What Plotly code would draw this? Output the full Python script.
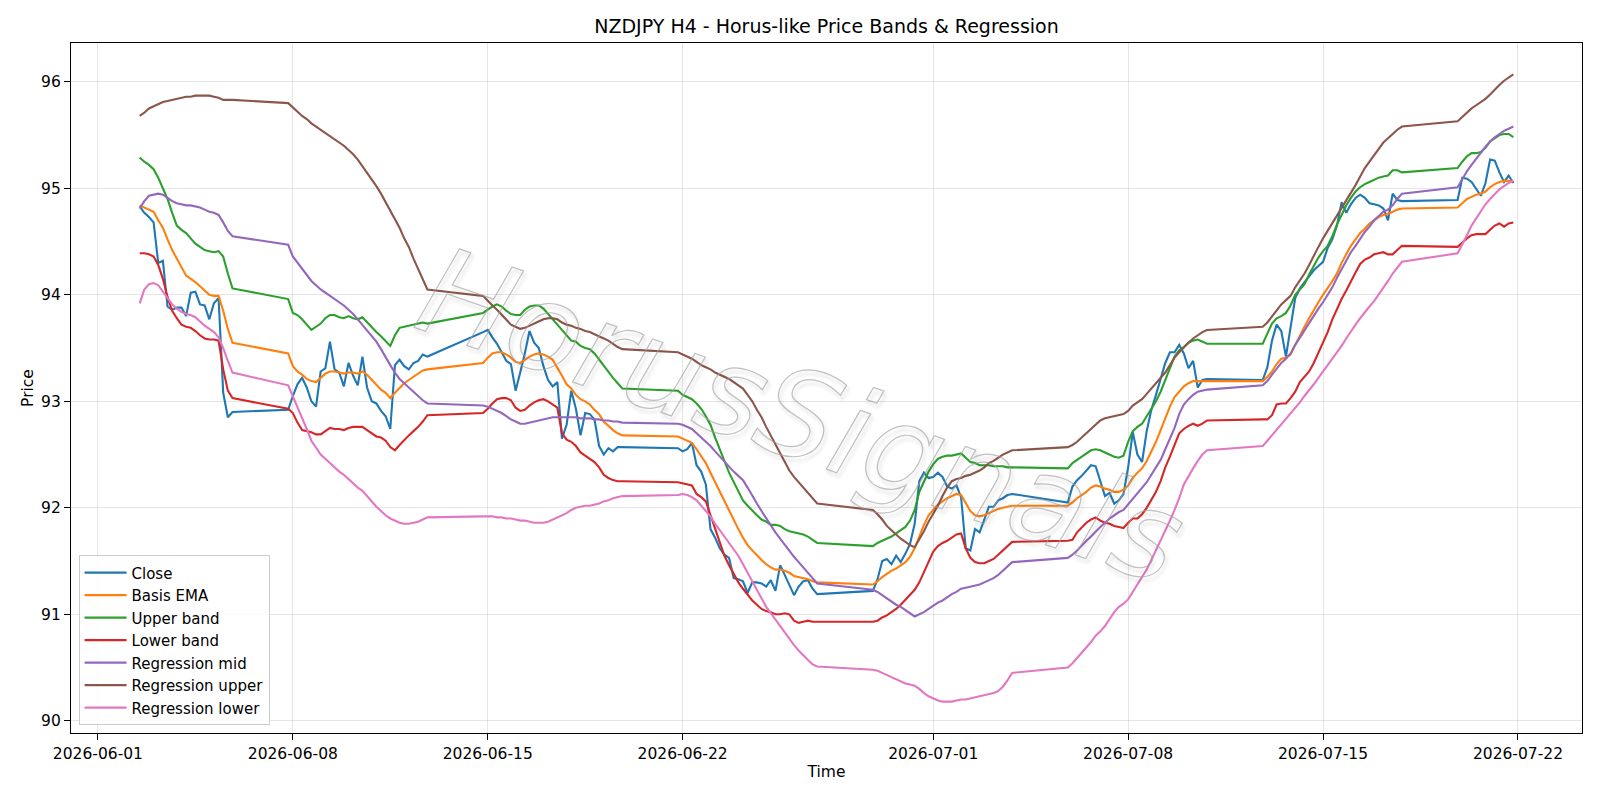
import pandas as pd
import plotly.graph_objects as go

# ---- time axis: H4 bars, Mon-Fri plus the Sunday 20:00 opening bar ----
bars = pd.date_range("2026-06-02 12:00", "2026-07-21 20:00", freq="4h")
times = [t for t in bars if t.weekday() < 5 or (t.weekday() == 6 and t.hour == 20)]

close = [
    94.83, 94.77, 94.73, 94.68, 94.30, 94.32, 93.89, 93.86, 93.88, 93.88, 93.80, 94.02, 94.03, 93.91, 93.90, 93.77, 93.92, 93.97, 93.08, 92.85, 92.90,
    92.92, 93.05, 93.16, 93.22, 93.13, 93.00, 92.95, 93.28, 93.31, 93.56, 93.30, 93.27, 93.14, 93.36, 93.24, 93.15, 93.42, 93.13, 93.00, 92.98, 92.91, 92.86, 92.74, 93.34, 93.39, 93.33, 93.30, 93.36, 93.38, 93.44, 93.42,
    93.65, 93.67, 93.60, 93.54, 93.46, 93.38, 93.35, 93.10, 93.27, 93.45, 93.66, 93.55, 93.50, 93.33, 93.20, 93.14, 93.18, 92.65, 92.78, 93.10, 92.93, 92.68, 92.89, 92.88, 92.83, 92.58, 92.50, 92.56, 92.53, 92.57, 92.57,
    92.56, 92.53, 92.55, 92.61, 92.40, 92.34, 92.22, 91.80, 91.72, 91.62, 91.56, 91.53, 91.34, 91.33, 91.31, 91.20, 91.30, 91.30, 91.29, 91.26, 91.32, 91.22, 91.46, 91.37, 91.28, 91.18, 91.26, 91.31, 91.32, 91.24, 91.19,
    91.22, 91.33, 91.50, 91.52, 91.47, 91.55, 91.49, 91.57, 91.66, 91.85, 92.25, 92.33, 92.28, 92.29, 92.33, 92.29, 92.20, 92.18, 92.21, 92.10, 91.62, 91.60, 91.80, 91.77, 91.90, 92.01, 92.01, 92.07, 92.09, 92.12, 92.13,
    92.05, 92.20, 92.26, 92.30, 92.35, 92.40, 92.39, 92.25, 92.11, 92.14, 92.04, 92.07, 92.13, 92.38, 92.71, 92.50, 92.43, 92.72, 92.92, 93.06, 93.20, 93.36, 93.46, 93.46, 93.53, 93.45, 93.31, 93.38, 93.13, 93.20, 93.21,
    93.20, 93.32, 93.57, 93.72, 93.66, 93.42, 93.68, 93.97, 94.06, 94.12, 94.17, 94.23, 94.27, 94.31, 94.44, 94.52, 94.65, 94.87, 94.77, 94.85, 94.91, 94.94, 94.91, 94.86, 94.85, 94.84, 94.81, 94.70, 94.95, 94.89, 94.88,
    94.89, 95.10, 95.09, 95.06, 95.00, 94.93, 95.05, 95.27, 95.26, 95.15, 95.06, 95.12, 95.05,
]

basis_ema = [
    94.84, 94.82, 94.80, 94.78, 94.70, 94.63, 94.52, 94.42, 94.34, 94.26, 94.18, 94.15, 94.12, 94.08, 94.04, 94.00, 93.99, 93.99, 93.85, 93.68, 93.55,
    93.45, 93.33, 93.28, 93.25, 93.21, 93.19, 93.18, 93.22, 93.26, 93.28, 93.28, 93.27, 93.26, 93.27, 93.27, 93.26, 93.28, 93.25, 93.20, 93.16, 93.11, 93.08, 93.03, 93.08, 93.13, 93.17, 93.20, 93.23, 93.26, 93.29, 93.30,
    93.36, 93.41, 93.45, 93.46, 93.46, 93.44, 93.41, 93.37, 93.36, 93.39, 93.42, 93.44, 93.45, 93.44, 93.42, 93.39, 93.32, 93.24, 93.16, 93.12, 93.06, 93.02, 93.00, 92.97, 92.92, 92.88, 92.81, 92.77, 92.73, 92.70, 92.68,
    92.67, 92.65, 92.63, 92.61, 92.55, 92.49, 92.42, 92.33, 92.24, 92.15, 92.06, 91.98, 91.89, 91.80, 91.72, 91.65, 91.60, 91.55, 91.51, 91.47, 91.44, 91.42, 91.42, 91.41, 91.39, 91.36, 91.35, 91.34, 91.33, 91.31, 91.30,
    91.28, 91.31, 91.35, 91.38, 91.41, 91.43, 91.46, 91.49, 91.54, 91.62, 91.73, 91.84, 91.93, 91.98, 92.03, 92.06, 92.09, 92.11, 92.13, 92.12, 92.04, 91.97, 91.93, 91.92, 91.93, 91.95, 91.97, 91.99, 92.00, 92.01, 92.02,
    92.02, 92.05, 92.09, 92.12, 92.15, 92.19, 92.21, 92.20, 92.18, 92.17, 92.15, 92.15, 92.17, 92.21, 92.28, 92.33, 92.37, 92.44, 92.53, 92.62, 92.73, 92.85, 92.95, 93.04, 93.09, 93.14, 93.17, 93.19, 93.19, 93.19, 93.19,
    93.19, 93.23, 93.28, 93.35, 93.40, 93.41, 93.44, 93.53, 93.62, 93.70, 93.78, 93.86, 93.93, 94.00, 94.06, 94.13, 94.20, 94.30, 94.38, 94.46, 94.52, 94.58, 94.62, 94.67, 94.70, 94.73, 94.75, 94.76, 94.78, 94.80, 94.81,
    94.82, 94.86, 94.90, 94.92, 94.94, 94.95, 94.97, 95.01, 95.04, 95.06, 95.07, 95.07, 95.07,
]

upper_band = [
    95.29, 95.25, 95.22, 95.18, 95.10, 95.00, 94.90, 94.77, 94.65, 94.61, 94.58, 94.53, 94.48, 94.45, 94.42, 94.41, 94.40, 94.41, 94.36, 94.20, 94.06,
    93.96, 93.83, 93.81, 93.77, 93.72, 93.67, 93.70, 93.73, 93.78, 93.81, 93.81, 93.79, 93.78, 93.80, 93.78, 93.77, 93.79, 93.74, 93.69, 93.65, 93.61, 93.56, 93.52, 93.62, 93.69, 93.70, 93.71, 93.72, 93.73, 93.74, 93.73,
    93.83, 93.86, 93.89, 93.91, 93.89, 93.85, 93.82, 93.81, 93.81, 93.86, 93.89, 93.90, 93.90, 93.87, 93.82, 93.77, 93.72, 93.66, 93.62, 93.57, 93.56, 93.52, 93.50, 93.49, 93.45, 93.39, 93.33, 93.28, 93.22, 93.17, 93.12,
    93.10, 93.06, 93.04, 93.02, 92.98, 92.93, 92.86, 92.78, 92.66, 92.54, 92.44, 92.33, 92.24, 92.16, 92.07, 92.02, 91.97, 91.93, 91.89, 91.87, 91.84, 91.84, 91.83, 91.80, 91.78, 91.77, 91.76, 91.75, 91.73, 91.70, 91.67,
    91.64, 91.67, 91.69, 91.71, 91.73, 91.76, 91.79, 91.82, 91.88, 91.98, 92.15, 92.25, 92.34, 92.41, 92.46, 92.48, 92.49, 92.49, 92.50, 92.51, 92.47, 92.43, 92.42, 92.40, 92.40, 92.40, 92.39, 92.39, 92.39, 92.38, 92.38,
    92.37, 92.42, 92.45, 92.48, 92.51, 92.54, 92.55, 92.54, 92.52, 92.50, 92.48, 92.47, 92.49, 92.62, 92.72, 92.76, 92.79, 92.86, 92.93, 93.00, 93.09, 93.20, 93.31, 93.42, 93.48, 93.51, 93.55, 93.57, 93.58, 93.56, 93.54,
    93.54, 93.64, 93.73, 93.78, 93.80, 93.83, 93.90, 94.00, 94.05, 94.10, 94.19, 94.27, 94.35, 94.41, 94.46, 94.55, 94.66, 94.75, 94.84, 94.91, 94.97, 95.01, 95.04, 95.06, 95.08, 95.10, 95.11, 95.12, 95.17, 95.17, 95.15,
    95.19, 95.25, 95.30, 95.33, 95.33, 95.34, 95.38, 95.44, 95.47, 95.50, 95.51, 95.51, 95.48,
]

lower_band = [
    94.39, 94.39, 94.38, 94.36, 94.28, 94.15, 93.98, 93.85, 93.78, 93.72, 93.70, 93.69, 93.66, 93.62, 93.59, 93.58, 93.58, 93.57, 93.30, 93.10, 93.03,
    92.93, 92.89, 92.80, 92.73, 92.72, 92.71, 92.69, 92.69, 92.72, 92.75, 92.74, 92.74, 92.73, 92.75, 92.76, 92.76, 92.76, 92.73, 92.70, 92.67, 92.66, 92.63, 92.57, 92.54, 92.59, 92.64, 92.68, 92.72, 92.76, 92.81, 92.87,
    92.89, 92.93, 92.98, 93.02, 93.03, 93.03, 93.01, 92.94, 92.91, 92.92, 92.96, 92.99, 93.01, 93.02, 93.00, 92.97, 92.94, 92.70, 92.64, 92.62, 92.58, 92.52, 92.49, 92.46, 92.43, 92.38, 92.31, 92.28, 92.26, 92.25, 92.25,
    92.24, 92.23, 92.22, 92.21, 92.13, 92.10, 92.06, 91.93, 91.79, 91.66, 91.55, 91.46, 91.38, 91.30, 91.24, 91.18, 91.13, 91.09, 91.05, 91.03, 91.02, 91.00, 91.00, 91.01, 91.00, 90.94, 90.92, 90.93, 90.94, 90.93, 90.93,
    90.93, 90.94, 90.97, 90.99, 91.02, 91.05, 91.09, 91.14, 91.19, 91.23, 91.30, 91.40, 91.50, 91.59, 91.64, 91.67, 91.69, 91.72, 91.75, 91.76, 91.62, 91.53, 91.49, 91.48, 91.48, 91.50, 91.52, 91.56, 91.60, 91.64, 91.68,
    91.69, 91.70, 91.77, 91.82, 91.86, 91.89, 91.91, 91.88, 91.86, 91.85, 91.83, 91.82, 91.81, 91.86, 91.90, 91.90, 91.94, 92.00, 92.08, 92.15, 92.25, 92.38, 92.48, 92.60, 92.70, 92.74, 92.77, 92.79, 92.77, 92.79, 92.82,
    92.83, 92.83, 92.87, 92.97, 92.98, 92.98, 93.03, 93.09, 93.18, 93.23, 93.28, 93.36, 93.46, 93.56, 93.65, 93.77, 93.87, 93.96, 94.04, 94.13, 94.21, 94.29, 94.33, 94.35, 94.38, 94.39, 94.40, 94.38, 94.38, 94.42, 94.46,
    94.45, 94.49, 94.53, 94.56, 94.57, 94.57, 94.57, 94.61, 94.65, 94.67, 94.64, 94.67, 94.68,
]

regression_mid = [
    94.81, 94.88, 94.93, 94.94, 94.95, 94.94, 94.91, 94.88, 94.86, 94.85, 94.84, 94.84, 94.83, 94.82, 94.80, 94.78, 94.77, 94.75, 94.68, 94.60, 94.55,
    94.47, 94.36, 94.30, 94.24, 94.18, 94.13, 94.09, 94.05, 94.02, 93.99, 93.96, 93.93, 93.90, 93.86, 93.82, 93.77, 93.72, 93.67, 93.62, 93.56, 93.49, 93.41, 93.34, 93.27, 93.21, 93.17, 93.13, 93.09, 93.05, 93.01, 92.98,
    92.96, 92.95, 92.93, 92.91, 92.89, 92.86, 92.83, 92.81, 92.79, 92.79, 92.80, 92.81, 92.82, 92.83, 92.84, 92.85, 92.85, 92.85, 92.85, 92.85, 92.85, 92.84, 92.84, 92.84, 92.83, 92.83, 92.82, 92.82, 92.81, 92.81, 92.80,
    92.79, 92.78, 92.76, 92.74, 92.70, 92.66, 92.62, 92.58, 92.53, 92.48, 92.43, 92.39, 92.34, 92.30, 92.26, 92.19, 92.11, 92.04, 91.97, 91.90, 91.84, 91.77, 91.71, 91.65, 91.59, 91.54, 91.49, 91.44, 91.39, 91.34, 91.29,
    91.23, 91.21, 91.18, 91.15, 91.12, 91.09, 91.07, 91.04, 91.01, 90.98, 91.00, 91.02, 91.05, 91.08, 91.11, 91.13, 91.16, 91.19, 91.21, 91.24, 91.25, 91.26, 91.27, 91.28, 91.30, 91.32, 91.34, 91.37, 91.41, 91.45, 91.49,
    91.53, 91.56, 91.60, 91.65, 91.69, 91.73, 91.78, 91.82, 91.86, 91.90, 91.93, 91.96, 91.98, 92.03, 92.08, 92.14, 92.19, 92.24, 92.31, 92.38, 92.45, 92.55, 92.65, 92.75, 92.88, 92.97, 93.02, 93.06, 93.09, 93.10, 93.11,
    93.15, 93.19, 93.25, 93.31, 93.36, 93.40, 93.45, 93.53, 93.60, 93.67, 93.74, 93.81, 93.87, 93.93, 94.00, 94.07, 94.16, 94.24, 94.32, 94.40, 94.46, 94.53, 94.59, 94.64, 94.70, 94.74, 94.78, 94.80, 94.84, 94.90, 94.95,
    95.01, 95.09, 95.16, 95.22, 95.28, 95.34, 95.39, 95.44, 95.48, 95.51, 95.54, 95.56, 95.58,
]

regression_upper = [
    95.68, 95.71, 95.75, 95.77, 95.79, 95.81, 95.82, 95.83, 95.84, 95.85, 95.86, 95.86, 95.87, 95.87, 95.87, 95.87, 95.86, 95.85, 95.83, 95.83, 95.83,
    95.80, 95.76, 95.72, 95.68, 95.65, 95.61, 95.58, 95.55, 95.52, 95.49, 95.46, 95.43, 95.40, 95.36, 95.32, 95.27, 95.21, 95.15, 95.09, 95.02, 94.95, 94.87, 94.79, 94.72, 94.63, 94.53, 94.45, 94.34, 94.24, 94.14, 94.05,
    93.99, 93.94, 93.90, 93.86, 93.81, 93.76, 93.72, 93.70, 93.68, 93.69, 93.71, 93.73, 93.75, 93.77, 93.78, 93.78, 93.77, 93.74, 93.72, 93.71, 93.69, 93.68, 93.66, 93.65, 93.63, 93.61, 93.59, 93.57, 93.54, 93.51, 93.49,
    93.46, 93.44, 93.42, 93.40, 93.37, 93.34, 93.32, 93.30, 93.27, 93.25, 93.23, 93.21, 93.18, 93.15, 93.12, 93.06, 93.00, 92.92, 92.85, 92.76, 92.68, 92.59, 92.51, 92.43, 92.35, 92.29, 92.24, 92.19, 92.14, 92.08, 92.04,
    91.98, 91.94, 91.89, 91.83, 91.79, 91.75, 91.71, 91.68, 91.65, 91.63, 91.70, 91.78, 91.87, 91.94, 92.02, 92.11, 92.19, 92.25, 92.27, 92.28, 92.30, 92.31, 92.33, 92.35, 92.38, 92.42, 92.44, 92.47, 92.50, 92.52, 92.54,
    92.57, 92.59, 92.62, 92.66, 92.70, 92.74, 92.78, 92.82, 92.84, 92.85, 92.86, 92.87, 92.88, 92.91, 92.96, 92.99, 93.02, 93.07, 93.12, 93.17, 93.21, 93.27, 93.34, 93.41, 93.46, 93.51, 93.55, 93.59, 93.62, 93.65, 93.67,
    93.70, 93.74, 93.80, 93.86, 93.91, 93.95, 93.99, 94.07, 94.13, 94.20, 94.28, 94.37, 94.45, 94.53, 94.60, 94.67, 94.74, 94.82, 94.88, 94.95, 95.03, 95.11, 95.19, 95.25, 95.31, 95.37, 95.43, 95.47, 95.51, 95.55, 95.58,
    95.63, 95.67, 95.71, 95.75, 95.78, 95.81, 95.84, 95.88, 95.93, 95.97, 96.01, 96.04, 96.07,
]

regression_lower = [
    93.92, 94.05, 94.10, 94.11, 94.09, 94.03, 93.97, 93.91, 93.87, 93.84, 93.82, 93.81, 93.79, 93.75, 93.71, 93.68, 93.65, 93.60, 93.50, 93.38, 93.27,
    93.15, 93.05, 92.94, 92.84, 92.74, 92.63, 92.56, 92.50, 92.46, 92.42, 92.38, 92.34, 92.31, 92.27, 92.23, 92.19, 92.16, 92.11, 92.05, 92.01, 91.97, 91.93, 91.90, 91.88, 91.86, 91.85, 91.85, 91.86, 91.87, 91.89, 91.91,
    91.92, 91.92, 91.92, 91.91, 91.91, 91.90, 91.90, 91.89, 91.88, 91.88, 91.87, 91.86, 91.86, 91.86, 91.87, 91.89, 91.91, 91.93, 91.95, 91.98, 92.00, 92.01, 92.02, 92.02, 92.03, 92.04, 92.06, 92.07, 92.09, 92.10, 92.11,
    92.12, 92.13, 92.12, 92.10, 92.07, 92.02, 91.97, 91.92, 91.85, 91.79, 91.74, 91.68, 91.62, 91.55, 91.47, 91.39, 91.31, 91.23, 91.14, 91.07, 91.01, 90.95, 90.89, 90.83, 90.76, 90.71, 90.66, 90.61, 90.57, 90.53, 90.51,
    90.48, 90.47, 90.45, 90.43, 90.41, 90.39, 90.37, 90.35, 90.34, 90.33, 90.30, 90.26, 90.23, 90.21, 90.19, 90.18, 90.18, 90.18, 90.19, 90.20, 90.20, 90.21, 90.22, 90.23, 90.24, 90.25, 90.26, 90.28, 90.32, 90.38, 90.45,
    90.50, 90.54, 90.59, 90.64, 90.68, 90.74, 90.80, 90.84, 90.89, 90.96, 91.02, 91.07, 91.10, 91.14, 91.21, 91.28, 91.35, 91.42, 91.51, 91.60, 91.69, 91.78, 91.88, 91.98, 92.09, 92.22, 92.30, 92.37, 92.44, 92.50, 92.54,
    92.58, 92.63, 92.68, 92.73, 92.79, 92.83, 92.88, 92.93, 92.99, 93.05, 93.10, 93.16, 93.22, 93.28, 93.34, 93.39, 93.45, 93.52, 93.59, 93.66, 93.72, 93.78, 93.84, 93.89, 93.94, 94.00, 94.06, 94.13, 94.20, 94.25, 94.31,
    94.39, 94.47, 94.56, 94.65, 94.72, 94.79, 94.85, 94.90, 94.95, 94.99, 95.02, 95.05, 95.07,
]

series_names = ["Close", "Basis EMA", "Upper band", "Lower band",
                "Regression mid", "Regression upper", "Regression lower"]
series_values = [close, basis_ema, upper_band, lower_band,
                 regression_mid, regression_upper, regression_lower]
series_colors = ["#1f77b4", "#ff7f0e", "#2ca02c", "#d62728",
                 "#9467bd", "#8c564b", "#e377c2"]

x_tick_dates = ["2026-06-01", "2026-06-08", "2026-06-15", "2026-06-22",
                "2026-07-01", "2026-07-08", "2026-07-15", "2026-07-22"]
y_ticks = [90, 91, 92, 93, 94, 95, 96]

title_text = "NZDJPY H4 - Horus-like Price Bands & Regression"
watermark_text = "HorusSignals"

for vals in series_values:
    assert len(vals) == len(times), (len(vals), len(times))

FONT = "DejaVu Sans"
fig = go.Figure()
for name, vals, col in zip(series_names, series_values, series_colors):
    fig.add_trace(go.Scatter(x=times, y=vals, mode="lines", name=name,
                             line=dict(color=col, width=2.1)))

# matplotlib-like 5% margins
t0, t1 = times[0], times[-1]
span = t1 - t0
x_range = [t0 - span * 0.05, t1 + span * 0.05]
all_vals = [v for s in series_values for v in s]
lo, hi = min(all_vals), max(all_vals)
y_range = [lo - 0.05 * (hi - lo), hi + 0.05 * (hi - lo)]

grid_col = "rgba(176,176,176,0.32)"
fig.update_layout(
    width=1600, height=800,
    margin=dict(l=71, r=18, t=43, b=67),
    paper_bgcolor="white", plot_bgcolor="white",
    font=dict(family=FONT, size=15.5, color="black"),
    title=dict(text=title_text, x=0.5, xref="paper", xanchor="center",
               y=1 - 26.5 / 800, yref="container", yanchor="middle",
               font=dict(family=FONT, size=19, color="black")),
    showlegend=True,
    legend=dict(x=0.005, y=0.011, xanchor="left", yanchor="bottom",
                bgcolor="rgba(255,255,255,0.8)", bordercolor="#cccccc",
                borderwidth=1, font=dict(family=FONT, size=15),
                itemwidth=42, tracegroupgap=0),
    xaxis=dict(type="date", range=x_range, tickvals=x_tick_dates,
               ticktext=x_tick_dates, ticks="outside", ticklen=6,
               tickcolor="black", showline=True, linecolor="black",
               linewidth=1.2, mirror=True, showgrid=True, gridcolor=grid_col,
               gridwidth=1, zeroline=False,
               title=dict(text="Time", standoff=4,
                          font=dict(family=FONT, size=15.5))),
    yaxis=dict(range=y_range, tickvals=y_ticks, ticks="outside", ticklen=6,
               tickcolor="black", showline=True, linecolor="black",
               linewidth=1.2, mirror=True, showgrid=True, gridcolor=grid_col,
               gridwidth=1, zeroline=False,
               title=dict(text="Price", standoff=3,
                          font=dict(family=FONT, size=15.5))),
)

fig.add_annotation(
    text='<span style="fill:rgba(255,255,255,0);stroke:rgba(160,160,160,0.65);stroke-width:1.2px">'
         + watermark_text + '</span>',
    xref="paper", yref="paper", x=0.483, y=0.459,
    xanchor="center", yanchor="middle", showarrow=False, textangle=19,
    font=dict(family=FONT, size=122, style="italic", color="rgba(150,150,150,0.5)",
              shadow="3px 3px 4px rgba(0,0,0,0.28)"),
)

fig.write_html("out.html")
